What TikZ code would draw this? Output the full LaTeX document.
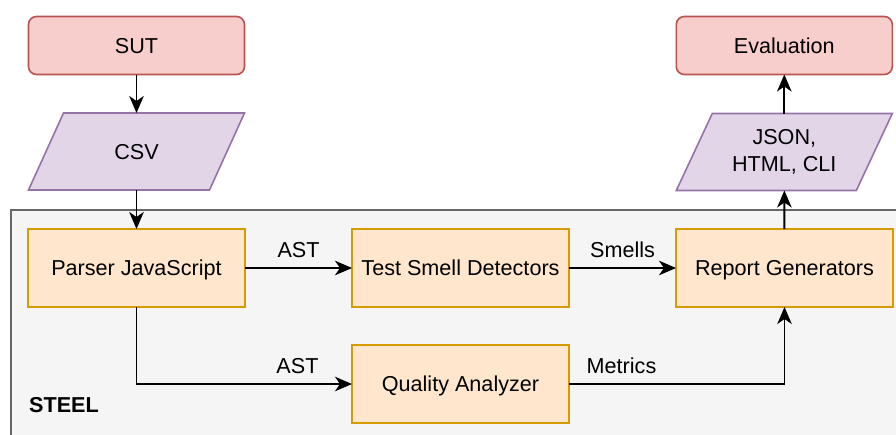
\documentclass[tikz,border=0pt]{standalone}
\usepackage{fontspec}
\setmainfont{Liberation Sans}
\usetikzlibrary{arrows.meta}
\definecolor{redfill}{HTML}{F8CECC}
\definecolor{reddraw}{HTML}{B85450}
\definecolor{purfill}{HTML}{E1D5E7}
\definecolor{purdraw}{HTML}{9673A6}
\definecolor{orafill}{HTML}{FFE6CC}
\definecolor{oradraw}{HTML}{D79B00}
\definecolor{contfill}{HTML}{F5F5F5}
\definecolor{contdraw}{HTML}{666666}
\pgfdeclarelayer{bg}
\pgfsetlayers{bg,main}
\begin{document}
\begin{tikzpicture}[x=1pt,y=-1pt,
  font=\fontsize{21.6}{27.3}\selectfont,
  termbox/.style={rectangle, rounded corners=8pt, draw=reddraw, fill=redfill, line width=1.6pt, minimum width=216pt, minimum height=58pt, inner sep=0pt, outer sep=0pt, text height=15.5pt, text depth=0pt},
  procbox/.style={rectangle, draw=oradraw, fill=orafill, line width=1.6pt, minimum width=217pt, minimum height=78pt, inner sep=0pt, outer sep=0pt, text height=15.5pt, text depth=0pt},
  iobox/.style={rectangle, minimum width=216pt, minimum height=77pt, inner sep=0pt, outer sep=0pt, align=center},
  ioshape/.style={draw=purdraw, fill=purfill, line width=1.6pt, line join=miter},
  arr/.style={line width=1.9pt, -{Stealth[length=17pt,width=14.5pt,inset=5pt]}},
  lbl/.style={anchor=base, yshift=11pt, inner sep=0pt},
]
\useasboundingbox (0,0) rectangle (896,434);
\begin{scope}
\clip (0,0) rectangle (896,434);
\draw[fill=contfill, draw=contdraw, line width=1.6pt] (11,210) rectangle (915,460);
\end{scope}
\node[anchor=base west, inner sep=0pt, font=\fontsize{21.6}{27}\selectfont\bfseries] (steel) at (29,412) {STEEL};

\node[termbox] (sut) at (136.5,45.5) {SUT};
\node[termbox] (eval) at (784.3,45.5) {Evaluation};
\node[iobox, text height=15.5pt, text depth=0pt] (csv) at (136.5,151.5) {CSV};
\node[iobox] (json) at (784.3,152) {JSON,\\HTML, CLI};
\begin{pgfonlayer}{bg}
\draw[ioshape] ([xshift=35pt]csv.north west) -- (csv.north east) -- ([xshift=-35pt]csv.south east) -- (csv.south west) -- cycle;
\draw[ioshape] ([xshift=36pt]json.north west) -- (json.north east) -- ([xshift=-36pt]json.south east) -- (json.south west) -- cycle;
\end{pgfonlayer}

\node[procbox] (parser) at (136.5,268) {Parser JavaScript};
\node[procbox] (tsd) at (460.5,268) {Test Smell Detectors};
\node[procbox] (rep) at (784.5,268) {Report Generators};
\node[procbox] (qa) at (460.5,384) {Quality Analyzer};

\draw[arr] (sut) -- (csv);
\draw[arr] (csv) -- (parser);
\draw[arr] (parser) -- node[lbl] (ast1) {AST} (tsd);
\draw[arr] (tsd) -- node[lbl] (smells) {Smells} (rep);
\draw[arr] (parser.south) |- (qa.west);
\node[lbl] (ast2) at (297.5,384) {AST};
\draw[arr] (qa.east) -| (rep.south);
\node[lbl] (metrics) at (621.5,384) {Metrics};
\draw[arr] (rep) -- (json);
\draw[arr] (json) -- (eval);
\end{tikzpicture}
\end{document}
